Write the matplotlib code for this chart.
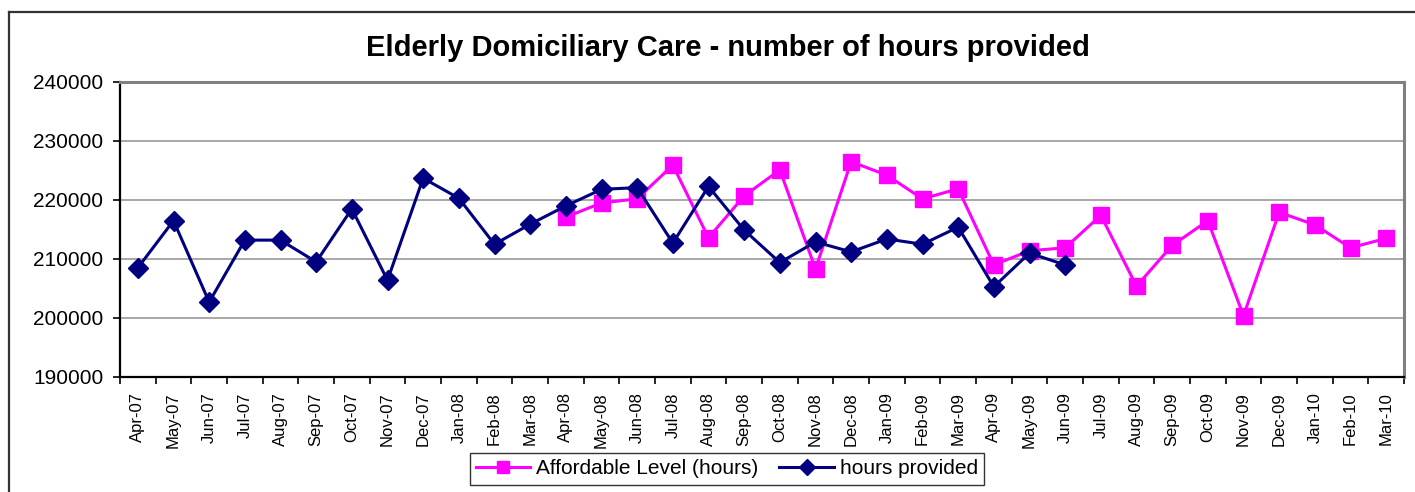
import matplotlib
matplotlib.use("Agg")
import matplotlib.pyplot as plt
from matplotlib.lines import Line2D
import numpy as np

months = ["Apr-07", "May-07", "Jun-07", "Jul-07", "Aug-07", "Sep-07", "Oct-07", "Nov-07",
          "Dec-07", "Jan-08", "Feb-08", "Mar-08", "Apr-08", "May-08", "Jun-08", "Jul-08",
          "Aug-08", "Sep-08", "Oct-08", "Nov-08", "Dec-08", "Jan-09", "Feb-09", "Mar-09",
          "Apr-09", "May-09", "Jun-09", "Jul-09", "Aug-09", "Sep-09", "Oct-09", "Nov-09",
          "Dec-09", "Jan-10", "Feb-10", "Mar-10"]

hours_provided = [208500, 216500, 202700, 213200, 213200, 209500, 218500, 206400,
                  223700, 220300, 212500, 215900, 219000, 221800, 222100, 212700,
                  222300, 214900, 209400, 212900, 211200, 213400, 212500, 215400,
                  205300, 211000, 209000]

affordable_start = 12  # Apr-08
affordable = [217100, 219500, 220200, 225900, 213600, 220700, 225100, 208300,
              226500, 224200, 220200, 221900, 209000, 211400, 211900, 217400,
              205400, 212300, 216500, 200400, 217900, 215800, 211900, 213500]

yticks = [190000, 200000, 210000, 220000, 230000, 240000]

plt.rcParams['font.family'] = ['Liberation Sans', 'DejaVu Sans']

fig = plt.figure(figsize=(14.15, 4.92), dpi=100)
ax = fig.add_axes([120/1415, 1-377/492, (1404-120)/1415, (377-82)/492])

x_hp = np.arange(len(hours_provided))
x_af = np.arange(affordable_start, affordable_start + len(affordable))

ax.plot(x_af, affordable, color='#FF00FF', lw=2.2, marker='s', ms=11.5,
        mec='#FF00FF', mfc='#FF00FF', label='Affordable Level (hours)', zorder=3)
ax.plot(x_hp, hours_provided, color='#000080', lw=2.2, marker='D', ms=10.5,
        mec='#000080', mfc='#000080', label='hours provided', zorder=4)

ax.set_xlim(-0.5, len(months) - 0.5)
ax.set_ylim(190000, 240000)
ax.set_yticks(yticks)
ax.set_yticklabels([str(v) for v in yticks], fontsize=15)
ax.yaxis.grid(True, color='#A0A0A0', lw=1.3)
ax.set_axisbelow(True)

ax.set_xticks(np.arange(len(months)))
ax.set_xticklabels(months, rotation=90, fontsize=12, va='top')
ax.set_xticks(np.arange(-0.5, len(months)), minor=True)
ax.tick_params(axis='x', which='major', length=0, pad=11)
ax.tick_params(axis='x', which='minor', length=5, width=1.2, direction='out', color='black')
ax.tick_params(axis='y', length=5, width=1.2, direction='out', pad=7, color='black')

for s in ['left', 'bottom']:
    ax.spines[s].set_color('black')
    ax.spines[s].set_linewidth(1.6)
for s in ['top', 'right']:
    ax.spines[s].set_color('#808080')
    ax.spines[s].set_linewidth(2.2)

fig.text(728/1415, 1-48/492, 'Elderly Domiciliary Care - number of hours provided',
         ha='center', va='center', fontsize=21, fontweight='bold')

leg = fig.legend(handles=ax.get_lines(), loc='center', bbox_to_anchor=(727/1415, 1-469/492),
                 ncol=2, fontsize=15, frameon=True, fancybox=False, edgecolor='black',
                 handlelength=2.6, handletextpad=0.3, columnspacing=1.0, borderpad=0.3,
                 markerscale=0.75)
leg.get_frame().set_linewidth(1.0)

# outer chart border
fig.add_artist(Line2D([9/1415, 1.0], [1-12/492, 1-12/492], transform=fig.transFigure,
                      color='#333333', lw=1.6))
fig.add_artist(Line2D([9/1415, 9/1415], [1-12/492, 0], transform=fig.transFigure,
                      color='#333333', lw=1.6))

fig.savefig('out.png', dpi=100)
